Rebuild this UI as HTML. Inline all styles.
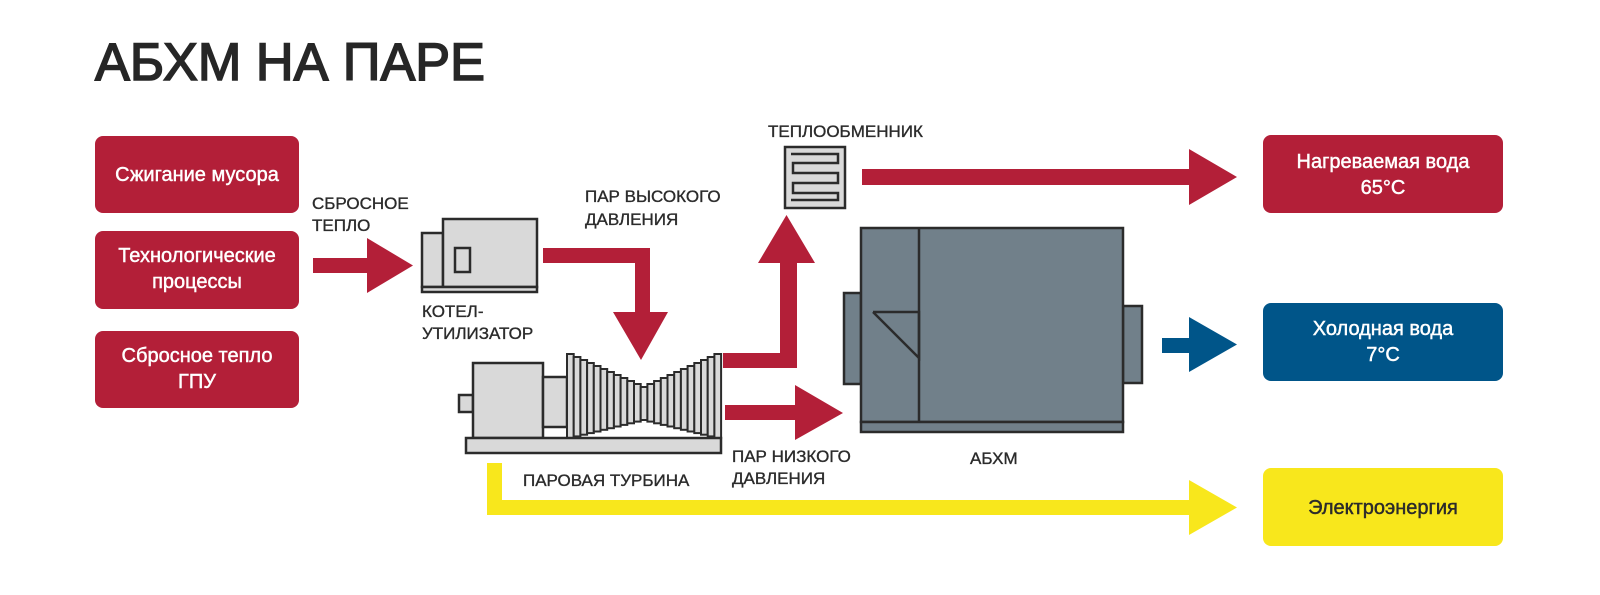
<!DOCTYPE html>
<html><head><meta charset="utf-8"><style>
html,body{margin:0;padding:0;background:#fff;}
svg{display:block;}
text{font-family:"Liberation Sans","DejaVu Sans",sans-serif;}
.lb{font-size:17px;fill:#2b2b2b;stroke:#2b2b2b;stroke-width:0.35;}
.bx{font-size:20px;fill:#fff;stroke:#fff;stroke-width:0.45;text-anchor:middle;}
.g{fill:#d9d9d9;stroke:#2b2b2b;stroke-width:2.5;}
.f{fill:#d9d9d9;stroke:#2b2b2b;stroke-width:2;}
.a{fill:#71808a;stroke:#2b2b2b;stroke-width:2.5;}
</style></head><body>
<svg width="1600" height="595" viewBox="0 0 1600 595" xmlns="http://www.w3.org/2000/svg">
<rect width="1600" height="595" fill="#fff"/>
<text x="95" y="80" font-size="53" fill="#262626" stroke="#262626" stroke-width="1.6" textLength="390" lengthAdjust="spacingAndGlyphs">АБХМ НА ПАРЕ</text>

<rect x="95" y="136" width="204" height="77" rx="8" fill="#b31f38"/>
<text class="bx" x="197" y="181">Сжигание мусора</text>
<rect x="95" y="231" width="204" height="78" rx="8" fill="#b31f38"/>
<text class="bx" x="197" y="262">Технологические</text>
<text class="bx" x="197" y="288">процессы</text>
<rect x="95" y="331" width="204" height="77" rx="8" fill="#b31f38"/>
<text class="bx" x="197" y="362">Сбросное тепло</text>
<text class="bx" x="197" y="388">ГПУ</text>

<rect x="1263" y="135" width="240" height="78" rx="8" fill="#b31f38"/>
<text class="bx" x="1383" y="168">Нагреваемая вода</text>
<text class="bx" x="1383" y="194">65°С</text>
<rect x="1263" y="303" width="240" height="78" rx="8" fill="#005589"/>
<text class="bx" x="1383" y="335">Холодная вода</text>
<text class="bx" x="1383" y="361">7°С</text>
<rect x="1263" y="468" width="240" height="78" rx="8" fill="#f8e71c"/>
<text class="bx" x="1383" y="514" style="fill:#2b2b2b;stroke:#2b2b2b">Электроэнергия</text>

<text class="lb" x="312" y="209">СБРОСНОЕ</text>
<text class="lb" x="312" y="231">ТЕПЛО</text>
<text class="lb" x="585" y="202">ПАР ВЫСОКОГО</text>
<text class="lb" x="585" y="225">ДАВЛЕНИЯ</text>
<text class="lb" x="422" y="317">КОТЕЛ-</text>
<text class="lb" x="422" y="339">УТИЛИЗАТОР</text>
<text class="lb" x="768" y="137">ТЕПЛООБМЕННИК</text>
<text class="lb" x="523" y="486">ПАРОВАЯ ТУРБИНА</text>
<text class="lb" x="732" y="462">ПАР НИЗКОГО</text>
<text class="lb" x="732" y="484">ДАВЛЕНИЯ</text>
<text class="lb" x="970" y="464">АБХМ</text>

<polygon fill="#b31f38" points="313,258 367,258 367,238 413,265.5 367,293 367,273 313,273"/>
<polygon fill="#b31f38" points="543,248 650,248 650,312 668,312 641,360 613,312 635,312 635,263 543,263"/>
<polygon fill="#b31f38" points="723,353 780,353 780,263 758,263 786.5,215 815,263 797,263 797,368 723,368"/>
<polygon fill="#b31f38" points="725,405 795,405 795,385 843,413 795,440 795,420 725,420"/>
<polygon fill="#b31f38" points="862,169 1189,169 1189,149 1237,177 1189,205 1189,185 862,185"/>
<polygon fill="#005589" points="1162,338 1189,338 1189,317 1237,344.5 1189,372 1189,353 1162,353"/>
<polygon fill="#f8e71c" points="487,463 502,463 502,500 1189,500 1189,480 1237,507.5 1189,535 1189,515 487,515"/>

<rect class="g" x="422" y="233" width="21" height="54"/>
<rect class="g" x="443" y="219" width="94" height="68"/>
<rect class="g" x="455" y="248" width="15" height="24"/>
<rect class="g" x="422" y="287" width="115" height="5"/>

<rect class="g" x="459" y="395" width="14" height="17"/>
<rect class="g" x="473" y="363" width="70" height="75"/>
<rect class="g" x="543" y="377" width="24" height="50"/>
<g class="f">
<rect x="567" y="354" width="6.7" height="84"/>
<rect x="573.7" y="357" width="6.7" height="79.4"/>
<rect x="580.4" y="360" width="6.7" height="74.7"/>
<rect x="587.1" y="363" width="6.7" height="70.1"/>
<rect x="593.8" y="366" width="6.7" height="65.5"/>
<rect x="600.5" y="369" width="6.7" height="60.8"/>
<rect x="607.2" y="372" width="6.7" height="56.2"/>
<rect x="613.9" y="375" width="6.7" height="51.5"/>
<rect x="620.6" y="378" width="6.7" height="46.9"/>
<rect x="627.3" y="381" width="6.7" height="42.3"/>
<rect x="634" y="384" width="6.7" height="37.6"/>
<rect x="640.7" y="387" width="6.7" height="33"/>
<rect x="647.4" y="384" width="6.7" height="37.6"/>
<rect x="654.1" y="381" width="6.7" height="42.3"/>
<rect x="660.8" y="378" width="6.7" height="46.9"/>
<rect x="667.5" y="375" width="6.7" height="51.5"/>
<rect x="674.2" y="372" width="6.7" height="56.2"/>
<rect x="680.9" y="369" width="6.7" height="60.8"/>
<rect x="687.6" y="366" width="6.7" height="65.5"/>
<rect x="694.3" y="363" width="6.7" height="70.1"/>
<rect x="701" y="360" width="6.7" height="74.7"/>
<rect x="707.7" y="357" width="6.7" height="79.4"/>
<rect x="714.4" y="354" width="6.7" height="84"/>
</g>
<rect class="g" x="466" y="438" width="255" height="15"/>

<rect class="g" x="785" y="147" width="60" height="61"/>
<polyline points="791,154 838,154 838,163 793,163 793,173 838,173 838,183 793,183 793,193 838,193 838,200 791,200" fill="none" stroke="#2b2b2b" stroke-width="2.5"/>

<rect class="a" x="844" y="293" width="17" height="91"/>
<rect class="a" x="1123" y="306" width="19" height="77"/>
<rect class="a" x="861" y="228" width="262" height="194"/>
<line x1="919" y1="228" x2="919" y2="422" stroke="#2b2b2b" stroke-width="2.5"/>
<polyline points="873,312 919,312 919,358 873,312" fill="none" stroke="#2b2b2b" stroke-width="2.5"/>
<rect class="a" x="861" y="422" width="262" height="10"/>
</svg>
</body></html>
